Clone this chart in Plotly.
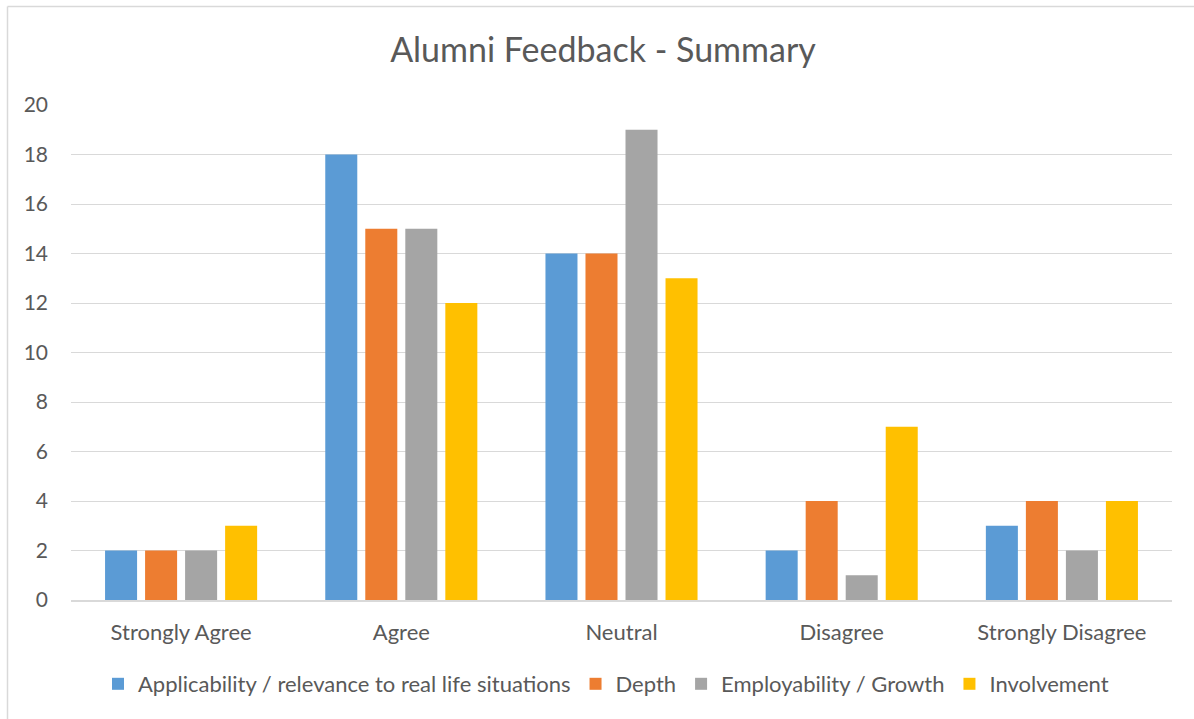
import plotly.graph_objects as go

categories = ["Strongly Agree", "Agree", "Neutral", "Disagree", "Strongly Disagree"]
series_names = ["Applicability / relevance to real life situations", "Depth",
                "Employability / Growth", "Involvement"]
applicability = [2, 18, 14, 2, 3]
depth = [2, 15, 14, 4, 4]
employability = [2, 15, 19, 1, 2]
involvement = [3, 12, 13, 7, 4]
y_ticks = [0, 2, 4, 6, 8, 10, 12, 14, 16, 18, 20]

colors = ["#5B9BD5", "#ED7D31", "#A5A5A5", "#FFC000"]
FONT = "Lato, Carlito, Calibri, 'Open Sans', sans-serif"
TXT = "#595959"

W, H = 1194, 719
L, R, T, B = 71, 22, 105, 119
pw, ph = W - L - R, H - T - B

fig = go.Figure()
for name, vals, c in zip(series_names, [applicability, depth, employability, involvement], colors):
    fig.add_trace(go.Bar(x=categories, y=vals, name=name, marker=dict(color=c, line=dict(width=0))))

def px_x(x):
    return (x - L) / pw

def px_y(y):
    return 1 - (y - T) / ph

fig.update_layout(
    width=W, height=H,
    margin=dict(l=L, r=R, t=T, b=B),
    paper_bgcolor="white", plot_bgcolor="white",
    barmode="group", bargap=0.273, bargroupgap=0.2,
    font=dict(family=FONT, color=TXT, size=22),
    title=dict(text="Alumni Feedback - Summary", x=px_x(603), xanchor="center",
               y=1 - 50 / H, yanchor="middle", xref="paper",
               font=dict(size=34, color=TXT, family=FONT)),
    xaxis=dict(showgrid=False, showline=True, linecolor="#D9D9D9", linewidth=2,
               ticks="", tickfont=dict(size=22, color=TXT), ticklabelstandoff=12),
    yaxis=dict(range=[0, 20], tickvals=y_ticks, showgrid=True, gridcolor="#D9D9D9",
               gridwidth=1.3, zeroline=False, showline=False, ticks="",
               tickfont=dict(size=21, color=TXT), ticklabelstandoff=22),
    legend=dict(orientation="h", x=px_x(606), xanchor="center", y=px_y(684), yanchor="middle",
                font=dict(size=22, color=TXT), itemwidth=30, traceorder="normal"),
    showlegend=True,
)

fig.add_shape(type="line", xref="paper", yref="paper",
              x0=px_x(7.5), x1=px_x(W + 5), y0=px_y(6.5), y1=px_y(6.5),
              line=dict(color="#D9D9D9", width=1.5))
fig.add_shape(type="line", xref="paper", yref="paper",
              x0=px_x(7.5), x1=px_x(7.5), y0=px_y(6.5), y1=px_y(H + 5),
              line=dict(color="#D9D9D9", width=1.5))

fig.write_html("out.html", config={"displayModeBar": False},
               post_script="document.body.style.margin='0px';document.body.style.overflow='hidden';")
